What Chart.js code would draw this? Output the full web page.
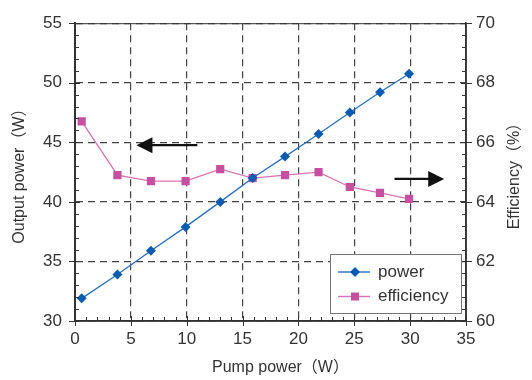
<!DOCTYPE html>
<html>
<head>
<meta charset="utf-8">
<script src="https://cdn.jsdelivr.net/npm/chart.js@4"></script>
<style>
body{margin:0;background:#fff}
#wrap{width:532px;height:380px;position:relative}
</style>
</head>
<body>
<div id="wrap"><canvas id="chart"></canvas></div>
<script>
const pumpPower = [0.6, 3.8, 6.8, 9.9, 13.0, 15.9, 18.8, 21.8, 24.6, 27.3, 29.9]
const outputPower = [31.9, 33.9, 35.9, 37.9, 40.0, 42.0, 43.8, 45.7, 47.5, 49.2, 50.75]
const efficiency = [66.7, 64.9, 64.7, 64.7, 65.1, 64.8, 64.9, 65.0, 64.5, 64.3, 64.1]
const seriesNames = ['power', 'efficiency']
const xTitle = 'Pump power（W）'
const leftTitle = 'Output power（W）'
const rightTitle = 'Efficiency（%）'

const FONT = "'Liberation Sans', Arial, 'Noto Sans CJK SC', sans-serif"
const TEXT = '#333'
const BLUE = '#0b5cb0'
const PINK = '#c64f9f'

function toPoints(ys){
  return pumpPower.map((x, i) => ({x: x, y: ys[i]}))
}

// solid frame, tick marks, arrows, legend and titles
const decor = {
  id: 'decor',
  afterDraw(chart){
    const ctx = chart.ctx
    const a = chart.chartArea
    const sx = chart.scales.x, sl = chart.scales.y, sr = chart.scales.y2
    ctx.save()
    ctx.setLineDash([])
    ctx.strokeStyle = '#333'
    ctx.lineWidth = 1
    ctx.beginPath()
    ctx.moveTo(a.left, a.top + 0.5); ctx.lineTo(a.right, a.top + 0.5)
    for(let v = 0; v <= 35; v++){
      const px = Math.round(sx.getPixelForValue(v)) + 0.5
      if(v % 5 === 0){ ctx.moveTo(px, a.bottom - 5); ctx.lineTo(px, a.bottom + 5) }
      else { ctx.moveTo(px, a.bottom - 4); ctx.lineTo(px, a.bottom) }
    }
    for(let v = 30; v <= 55; v++){
      const py = Math.round(sl.getPixelForValue(v)) + 0.5
      if(v % 5 === 0){ ctx.moveTo(a.left - 6, py); ctx.lineTo(a.left + 5, py) }
      else { ctx.moveTo(a.left, py); ctx.lineTo(a.left + 4, py) }
    }
    for(let i = 0; i <= 25; i++){
      const py = Math.round(sr.getPixelForValue(60 + i * 0.4)) + 0.5
      if(i % 5 === 0){ ctx.moveTo(a.right - 5, py); ctx.lineTo(a.right + 6, py) }
      else { ctx.moveTo(a.right - 4, py); ctx.lineTo(a.right, py) }
    }
    ctx.stroke()
    ctx.lineWidth = 1.6
    ctx.beginPath()
    ctx.moveTo(a.left, a.bottom); ctx.lineTo(a.right, a.bottom)
    ctx.moveTo(a.right, a.top); ctx.lineTo(a.right, a.bottom)
    ctx.stroke()
    ctx.lineWidth = 2
    ctx.beginPath()
    ctx.moveTo(a.left, a.top); ctx.lineTo(a.left, a.bottom + 1)
    ctx.stroke()

    // arrows pointing at each series' axis
    function arrow(x1, x2, y){
      ctx.strokeStyle = '#111'; ctx.fillStyle = '#111'; ctx.lineWidth = 2.3
      const dir = Math.sign(x2 - x1)
      ctx.beginPath()
      ctx.moveTo(x1, y); ctx.lineTo(x2 - dir * 12, y)
      ctx.stroke()
      ctx.beginPath()
      ctx.moveTo(x2, y); ctx.lineTo(x2 - dir * 16, y - 8); ctx.lineTo(x2 - dir * 16, y + 8)
      ctx.closePath(); ctx.fill()
    }
    arrow(sx.getPixelForValue(10.95), sx.getPixelForValue(5.5), sl.getPixelForValue(44.76))
    arrow(sx.getPixelForValue(28.6), sx.getPixelForValue(33.05), sr.getPixelForValue(64.77))

    // legend box inside the plot
    const x0 = a.right - 136, y0 = a.bottom - 67
    ctx.fillStyle = '#fff'
    ctx.fillRect(x0, y0, 131, 59)
    ctx.strokeStyle = '#777'; ctx.lineWidth = 1
    ctx.strokeRect(x0 + 0.5, y0 + 0.5, 131, 59)
    chart.data.datasets.forEach((ds, i) => {
      const cy = y0 + 18 + i * 24.5
      ctx.strokeStyle = ds.borderColor; ctx.lineWidth = 1.4
      ctx.beginPath(); ctx.moveTo(x0 + 8, cy); ctx.lineTo(x0 + 40, cy); ctx.stroke()
      ctx.fillStyle = ds.pointBackgroundColor
      const mx = x0 + 25
      if(ds.pointStyle === 'rectRot'){
        ctx.beginPath()
        ctx.moveTo(mx, cy - 5); ctx.lineTo(mx + 5, cy); ctx.lineTo(mx, cy + 5); ctx.lineTo(mx - 5, cy)
        ctx.closePath(); ctx.fill()
      } else {
        ctx.fillRect(mx - 4, cy - 4, 8, 8)
      }
      ctx.fillStyle = TEXT
      ctx.font = '17px ' + FONT
      ctx.textAlign = 'left'; ctx.textBaseline = 'middle'
      ctx.fillText(ds.label, x0 + 48, cy)
    })

    // axis titles
    ctx.fillStyle = TEXT
    ctx.font = '16px ' + FONT
    ctx.textAlign = 'center'; ctx.textBaseline = 'middle'
    ctx.fillText(xTitle, (a.left + a.right) / 2 + 10, 368)
    ctx.save(); ctx.translate(20, (a.top + a.bottom) / 2); ctx.rotate(-Math.PI / 2)
    ctx.fillText(leftTitle, 0, 0); ctx.restore()
    ctx.save(); ctx.translate(515, (a.top + a.bottom) / 2); ctx.rotate(-Math.PI / 2)
    ctx.fillText(rightTitle, 0, 0); ctx.restore()
    ctx.restore()
  }
}

const tickFont = {family: FONT, size: 17}

new Chart(document.getElementById('chart'), {
  type: 'line',
  data: {
    datasets: [{
      label: seriesNames[0],
      data: toPoints(outputPower),
      yAxisID: 'y',
      borderColor: '#2a6fc0',
      borderWidth: 1.3,
      pointStyle: 'rectRot',
      pointRadius: 5,
      pointBackgroundColor: BLUE,
      pointBorderColor: BLUE,
      pointBorderWidth: 0
    }, {
      label: seriesNames[1],
      data: toPoints(efficiency),
      yAxisID: 'y2',
      borderColor: '#d672b6',
      borderWidth: 1.3,
      pointStyle: 'rect',
      pointRadius: 5.8,
      pointBackgroundColor: PINK,
      pointBorderColor: PINK,
      pointBorderWidth: 0
    }]
  },
  options: {
    responsive: true,
    maintainAspectRatio: false,
    animation: false,
    layout: {padding: {top: 20}},
    plugins: {legend: {display: false}, tooltip: {enabled: false}},
    scales: {
      x: {
        type: 'linear', min: 0, max: 35,
        ticks: {stepSize: 5, color: TEXT, font: tickFont, padding: 8, maxRotation: 0},
        grid: {color: '#444', lineWidth: 1.2, drawTicks: false},
        border: {display: true, color: '#333', width: 1.5, dash: [7, 5]},
        afterFit(s){ s.height = 59 }
      },
      y: {
        position: 'left', min: 30, max: 55,
        ticks: {stepSize: 5, color: TEXT, font: tickFont, padding: 13},
        grid: {color: '#444', lineWidth: 1.2, drawTicks: false},
        border: {display: true, color: '#333', width: 2, dash: [7, 5]},
        afterFit(s){ s.width = 75 }
      },
      y2: {
        position: 'right', min: 60, max: 70,
        ticks: {stepSize: 2, color: TEXT, font: tickFont, padding: 10},
        grid: {drawOnChartArea: false, drawTicks: false},
        border: {display: true, color: '#333', width: 1.5},
        afterFit(s){ s.width = 66 }
      }
    }
  },
  plugins: [decor]
})
</script>
</body>
</html>
